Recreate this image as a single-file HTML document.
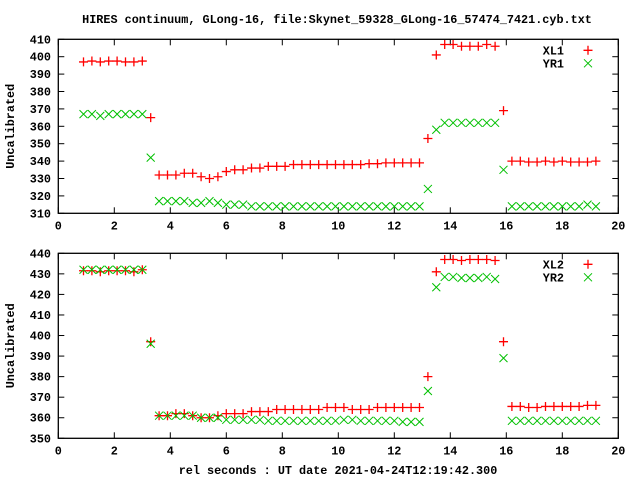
<!DOCTYPE html>
<html><head><meta charset="utf-8"><style>
body{margin:0;background:#fff;}
svg{display:block;font-family:"Liberation Mono",monospace;font-weight:bold;font-size:11.8px;}
</style></head><body>
<svg id="c" width="640" height="480" viewBox="0 0 640 480">
<rect width="640" height="480" fill="#fff"/>
<text x="337" y="23" text-anchor="middle">HIRES continuum, GLong-16, file:Skynet_59328_GLong-16_57474_7421.cyb.txt</text>
<text x="338" y="474" text-anchor="middle">rel seconds : UT date 2021-04-24T12:19:42.300</text>
</svg>
<script>
const xs=[0.9,1.2,1.5,1.8,2.1,2.4,2.7,3.0,3.3,3.6,3.9,4.2,4.5,4.8,5.1,5.4,5.7,6.0,6.3,6.6,6.9,7.2,7.5,7.8,8.1,8.4,8.7,9.0,9.3,9.6,9.9,10.2,10.5,10.8,11.1,11.4,11.7,12.0,12.3,12.6,12.9,13.2,13.5,13.8,14.1,14.4,14.7,15.0,15.3,15.6,15.9,16.2,16.5,16.8,17.1,17.4,17.7,18.0,18.3,18.6,18.9,19.2];
const xl1=[397,397.5,397,397.5,397.5,397,397,397.5,365,332,332,332,333,333,331,330,331,334,335,335,336,336,337,337,337,338,338,338,338,338,338,338,338,338,338.5,338.5,339,339,339,339,339,353,401,407,407,406,406,406,407,406,369,340,340,339.5,339.5,340,339.5,340,339.5,339.5,339.5,340];
const yr1=[367,367,366,367,367,367,367,367,342,317,317,317,317,316,316,317,316,315,315,315,314,314,314,314,314,314,314,314,314,314,314,314,314,314,314,314,314,314,314,314,314,324,358,362,362,362,362,362,362,362,335,314,314,314,314,314,314,314,314,314,315,314];
const xl2=[431.5,431.5,431,431.5,431.5,431.5,431,432,397,361,361,362,362,361,360,360,361,362,362,362,363,363,363,364,364,364,364,364,364,365,365,365,364,364,364,365,365,365,365,365,365,380,431,437,437,436.5,437,437,437,436.5,397,365.5,365.5,365,365,365.5,365.5,365.5,365.5,365.5,366,366];
const yr2=[432,432,432,432,432,432,432,432,396,361,361,361,361,361,360,360,360,359,359,359,359,359,358.5,358.5,358.5,358.5,358.5,358.5,358.5,358.5,358.5,359,359,358.5,358.5,358.5,358.5,358.5,358,358,358,373,423.5,428.5,428.5,428,428,428,428.5,427.5,389,358.5,358.5,358.5,358.5,358.5,358.5,358.5,358.5,358.5,358.5,358.5];
const xTicks=[0,2,4,6,8,10,12,14,16,18,20];
const yTicks1=[310,320,330,340,350,360,370,380,390,400,410];
const yTicks2=[350,360,370,380,390,400,410,420,430,440];
const NS='http://www.w3.org/2000/svg';
const svg=document.getElementById('c');
function mk(tag,attrs,parent){const e=document.createElementNS(NS,tag);for(const k in attrs)e.setAttribute(k,attrs[k]);(parent||svg).appendChild(e);return e;}
const L=58.3,R=618.3;
function sx(v){return L+(v-0)/(20-0)*(R-L);}
function panel(top,bot,ymin,ymax,yTicks,sA,sB,nA,nB,id){
  const g=mk('g',{});
  
  
  const sy=v=>bot-(v-ymin)/(ymax-ymin)*(bot-top);
  mk('rect',{x:L,y:top,width:R-L,height:bot-top,fill:'none',stroke:'#000','stroke-width':1.3},g);
  xTicks.forEach(t=>{const x=sx(t);
    mk('line',{x1:x,y1:bot,x2:x,y2:bot-6,stroke:'#000'},g);
    mk('line',{x1:x,y1:top,x2:x,y2:top+6,stroke:'#000'},g);
    const tx=mk('text',{x:x,y:bot+16,'text-anchor':'middle'},g);tx.textContent=t;
    
    
  });
  yTicks.forEach(t=>{const y=sy(t);
    mk('line',{x1:L,y1:y,x2:L+6,y2:y,stroke:'#000'},g);
    mk('line',{x1:R,y1:y,x2:R-6,y2:y,stroke:'#000'},g);
    const tx=mk('text',{x:51,y:y+4,'text-anchor':'end'},g);tx.textContent=t;
    
    
  });
  const yl=mk('text',{x:0,y:0,'text-anchor':'middle',transform:`translate(14,${(top+bot)/2}) rotate(-90)`},g);
  yl.textContent='Uncalibrated';
  
  
  function plus(x,y,p){mk('path',{d:`M${x-4.5},${y}h9M${x},${y-4.5}v9`,stroke:'#ff0000','stroke-width':1.3,fill:'none'},p);}
  function cross(x,y,p){mk('path',{d:`M${x-4},${y-4}l8,8M${x-4},${y+4}l8,-8`,stroke:'#00c000','stroke-width':1,fill:'none'},p);}
  const gA=mk('g',{},g);
  
  
  const gB=mk('g',{},g);
  
  
  xs.forEach((xv,i)=>{cross(sx(xv),sy(sB[i]),gB);});
  xs.forEach((xv,i)=>{plus(sx(xv),sy(sA[i]),gA);});
  const lg=mk('g',{},g);
  
  
  const t1=mk('text',{x:564,y:top+15,'text-anchor':'end'},lg);t1.textContent=nA;
  const t2=mk('text',{x:564,y:top+28,'text-anchor':'end'},lg);t2.textContent=nB;
  plus(588,top+11,lg);cross(588,top+24,lg);
}
panel(39.3,213.3,310,410,yTicks1,xl1,yr1,'XL1','YR1','top');
panel(253.3,438.3,350,440,yTicks2,xl2,yr2,'XL2','YR2','bottom');
</script>
</body></html>
